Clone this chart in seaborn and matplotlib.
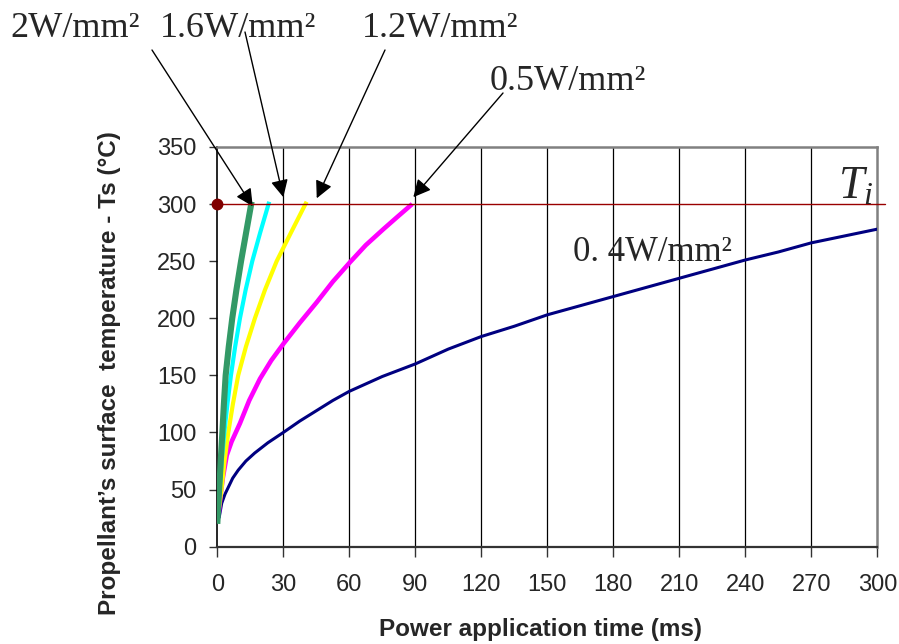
import numpy as np
import pandas as pd
import matplotlib
matplotlib.use("Agg")
import matplotlib.pyplot as plt
import seaborn as sns

# curves: time (ms) vs surface temperature (degC)
green_t = [0, 0.4, 1.0, 1.7, 2.3, 3.0, 3.8, 5.2, 6.8, 8.7, 10.8, 13.1, 15.6]
green_T = [20, 35, 55, 80, 100, 125, 150, 175, 200, 225, 250, 275, 302]

cyan_t = [0.3, 1.0, 2.0, 3.2, 4.6, 6.2, 8.1, 10.3, 12.9, 15.9, 19.5, 23.6]
cyan_T = [30, 50, 75, 100, 125, 150, 175, 200, 225, 250, 275, 302]

yellow_t = [0.5, 1.9, 3.3, 5.0, 7.1, 9.5, 13.0, 17.1, 21.7, 27.0, 33.5, 40.6]
yellow_T = [30, 50, 75, 100, 125, 150, 175, 200, 225, 250, 275, 302]

magenta_t = [0.7, 1.5, 2.5, 4.3, 6.5, 10.3, 14.5, 19.4, 24.5, 30.2, 37.5, 45.2,
             52.5, 60.3, 67.5, 75.5, 82.0, 88.6]
magenta_T = [30, 45, 60, 80, 92, 108, 128, 147, 163, 178, 196, 214,
             232, 249, 264, 278, 289, 300]

blue_t = [0.8, 2.0, 3.5, 5.0, 7.0, 9.5, 13.0, 17.0, 23.0, 30.0, 37.5, 45.0, 52.5,
          60.0, 75.0, 90.0, 105.0, 120.0, 135.0, 150.0, 165.0, 180.0, 195.0,
          210.0, 225.0, 240.0, 255.0, 270.0, 285.0, 300.0]
blue_T = [25, 38, 46, 52, 60, 67, 75, 82, 91, 100, 110, 119, 128,
          136, 149, 160, 173, 184, 193, 203, 211, 219, 227,
          235, 243, 251, 258, 266, 272, 278]

T_ignition = 300

labels = ["2W/mm²", "1.6W/mm²", "1.2W/mm²", "0.5W/mm²"]
# where each arrow points (data) and where the label sits (figure pixels, from top)
arrow_tip_t = [16.1, 30, 45.2, 89.1]
arrow_tip_T = [298, 306, 305, 306]
arrow_start_px = [(152, 50), (245, 32), (385, 50), (503, 93)]
label_px = [(10, 37), (160, 37), (362, 37), (490, 90)]

x_ticks = list(range(0, 301, 30))
y_ticks = list(range(0, 351, 50))

sns.set_style("white")
plt.rcParams['font.family'] = ['Liberation Sans', 'DejaVu Sans']
plt.rcParams['mathtext.fontset'] = 'custom'
plt.rcParams['mathtext.rm'] = 'Liberation Serif'
plt.rcParams['mathtext.it'] = 'Liberation Serif:italic'

W, H = 899, 644
fig = plt.figure(figsize=(W / 100, H / 100), dpi=100)
ax = fig.add_axes([217.3 / W, 1 - 546.7 / H, 660 / W, 399.8 / H])

series = [
    (blue_t, blue_T, '#000080', 2.2),
    (magenta_t, magenta_T, '#FF00FF', 3.3),
    (yellow_t, yellow_T, '#FFFF00', 3.0),
    (cyan_t, cyan_T, '#00FFFF', 3.0),
    (green_t, green_T, '#339966', 4.4),
]
for t, T, col, lw in series:
    df = pd.DataFrame({'t': t, 'T': T})
    sns.lineplot(data=df, x='t', y='T', color=col, linewidth=lw, sort=False,
                 estimator=None, ax=ax, solid_capstyle='butt', zorder=3)

# ignition temperature line and dot
ax.plot([0, 303.5], [T_ignition, T_ignition], color='#990000', lw=1.0,
        clip_on=False, zorder=4)
ax.plot([0], [T_ignition], 'o', color='#800000', ms=7.5, clip_on=False, zorder=5)

ax.set_xlim(0, 300)
ax.set_ylim(0, 350)
ax.set_xticks(x_ticks)
ax.set_yticks(y_ticks)
for x in x_ticks[1:-1]:
    ax.axvline(x, color='black', lw=0.9, zorder=1)

ax.tick_params(axis='x', direction='out', length=7, width=1, pad=13, labelsize=17,
               bottom=True, color='#333333')
ax.tick_params(axis='y', direction='out', length=6, width=1, pad=9, labelsize=17,
               left=True, color='#333333')

for side in ['top', 'right']:
    ax.spines[side].set_color('#808080')
    ax.spines[side].set_linewidth(1.8)
ax.spines['left'].set_color('black')
ax.spines['left'].set_linewidth(1.2)
ax.spines['bottom'].set_color('#333333')
ax.spines['bottom'].set_linewidth(1.6)

ax.set_xlabel('Power application time (ms)', fontsize=17.5, fontweight='bold')
ax.set_ylabel('Propellant\u2019s surface  temperature - Ts (°C)', fontsize=17.5,
              fontweight='bold')
ax.xaxis.set_label_coords(0.489, -0.178)
ax.yaxis.set_label_coords(-0.146, 0.435)

serif = ['Liberation Serif', 'DejaVu Serif']
for lab, (lx, ly), (sx, sy), tt, tT in zip(labels, label_px, arrow_start_px,
                                         arrow_tip_t, arrow_tip_T):
    ax.annotate(lab, xy=(lx, H - ly), xycoords='figure pixels', ha='left',
                va='baseline', fontsize=26, family=serif, annotation_clip=False)
    ax.annotate('', xy=(tt, tT), xycoords='data', xytext=(sx, H - sy),
                textcoords='figure pixels', annotation_clip=False,
                arrowprops=dict(arrowstyle='-|>,head_length=0.7,head_width=0.35',
                                mutation_scale=15, color='black', lw=1.0,
                                shrinkA=0, shrinkB=0))

ax.text(161.7, 250.4, '0. 4W/mm²', fontsize=25, family=serif, ha='left',
        va='baseline', zorder=6)
ax.text(282, 305, '$T_i$', fontsize=33, ha='left', va='baseline', zorder=6)

fig.savefig('out.png', dpi=100)
